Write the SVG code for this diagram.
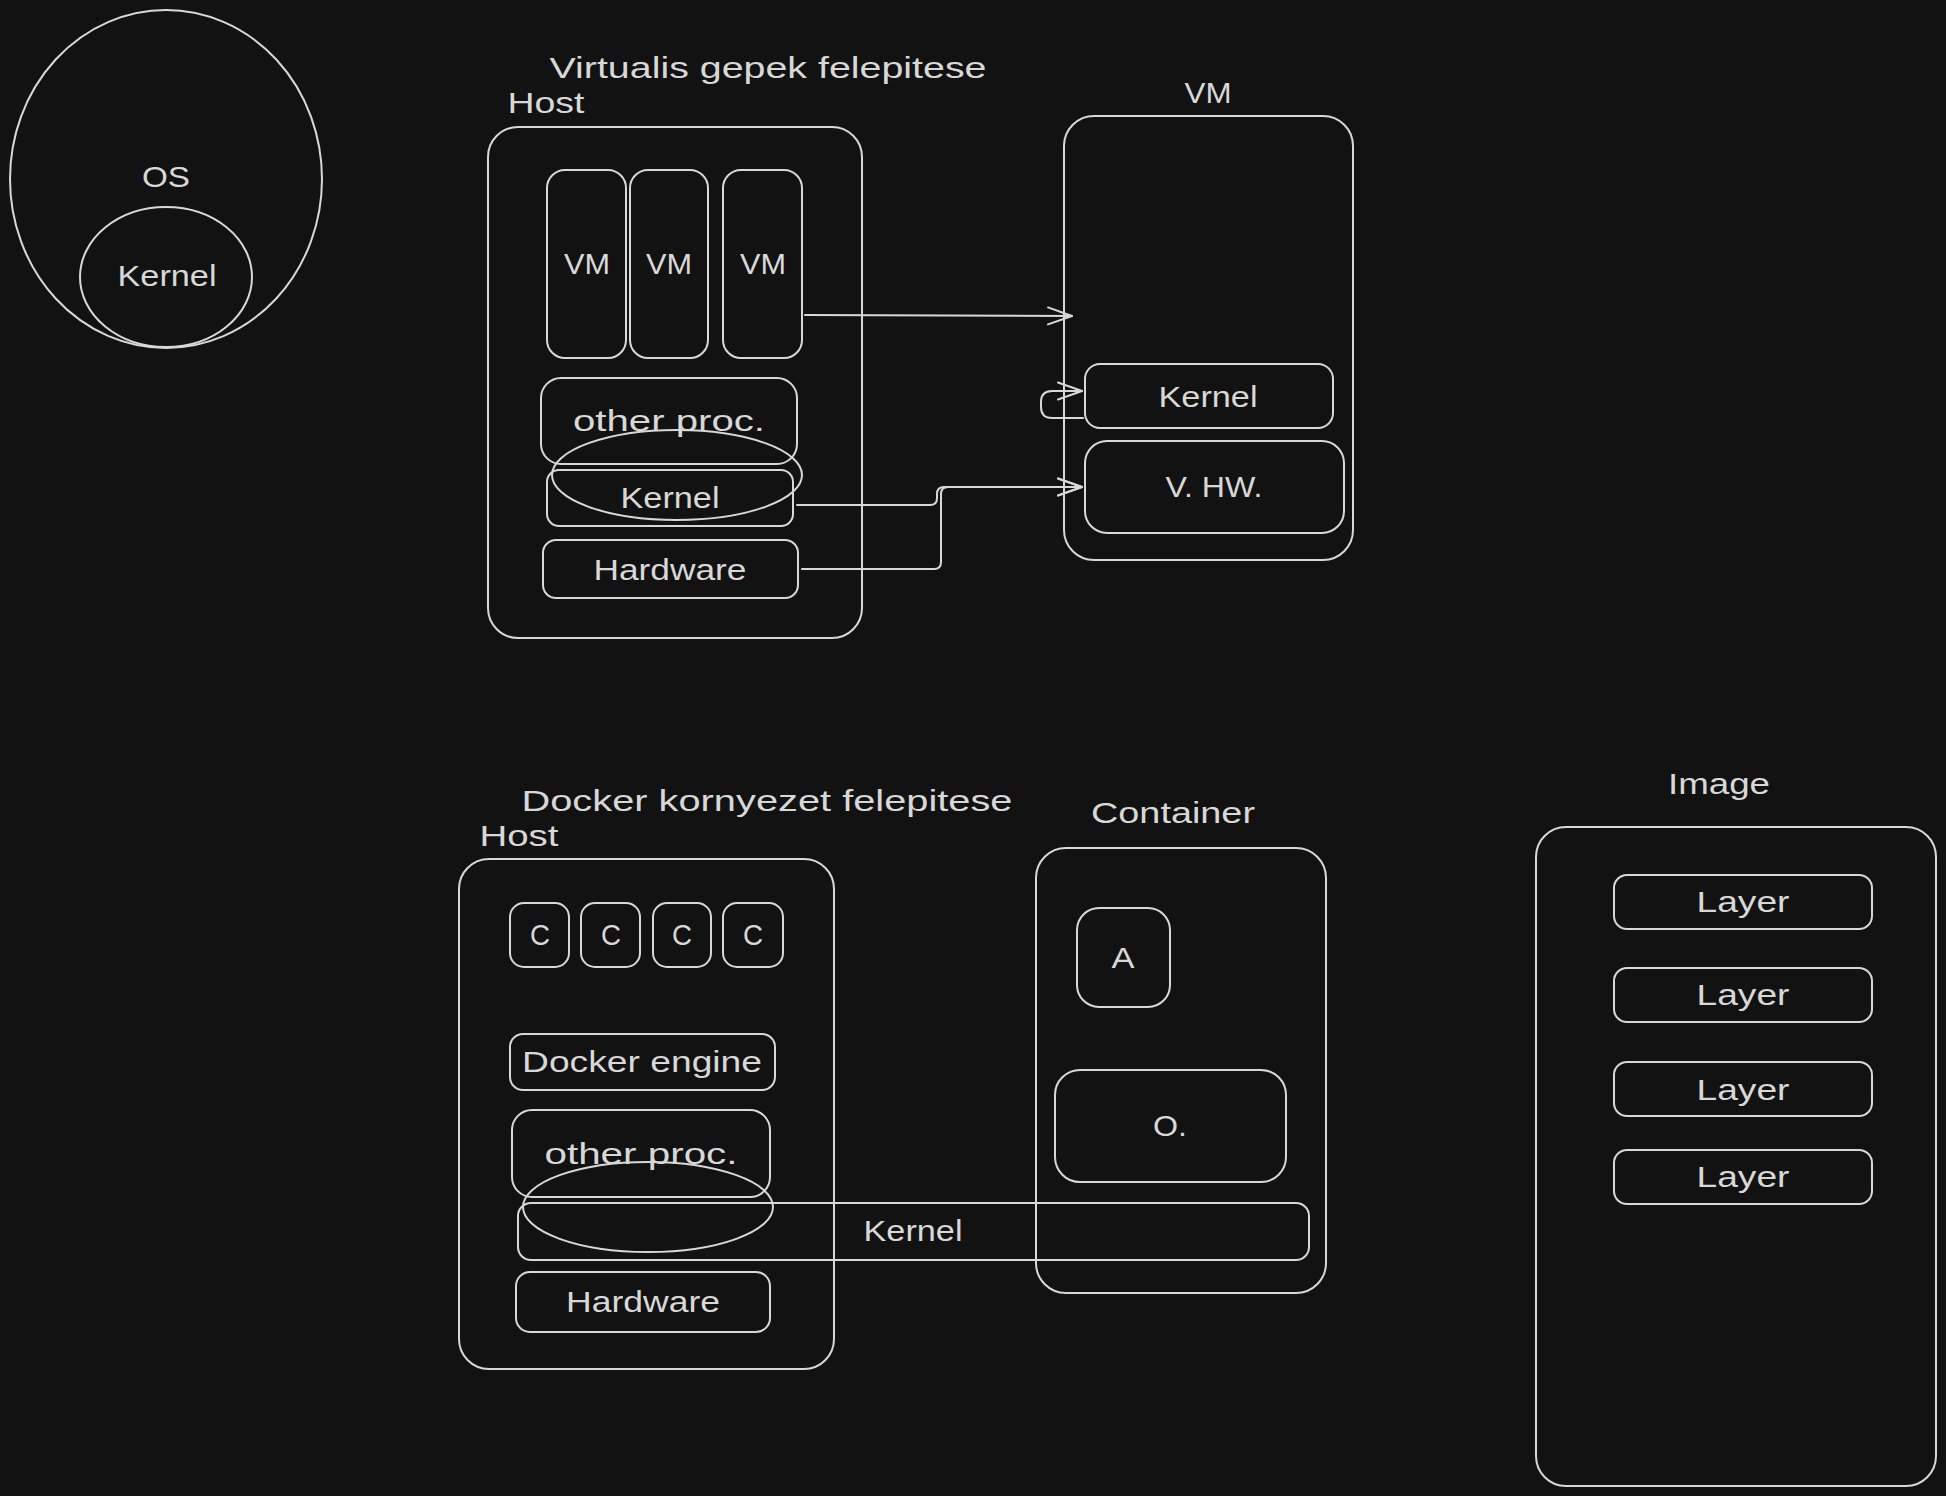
<svg xmlns="http://www.w3.org/2000/svg" width="1946" height="1496" viewBox="0 0 1946 1496">
<defs>
<style>
.s{fill:none;stroke:#d8d8d8;stroke-width:2;stroke-linecap:round;stroke-linejoin:round}
.t{fill:#d8d8d8;font-family:"Liberation Sans",Arial,sans-serif;font-size:30px;text-anchor:middle}
.c{fill:none;stroke:#d8d8d8;stroke-width:2;stroke-linecap:round;stroke-linejoin:round}
</style>
<marker id="ah" viewBox="-27 -11 30 22" refX="0" refY="0" markerWidth="30" markerHeight="22" markerUnits="userSpaceOnUse" orient="auto">
<path d="M-24,-8.5 L0,0 L-24,8.5" fill="none" stroke="#d8d8d8" stroke-width="2" stroke-linecap="round" stroke-linejoin="round"/>
</marker>
</defs>
<rect x="0" y="0" width="1946" height="1496" fill="#121212"/>

<g id="os">
<ellipse class="s" cx="166" cy="179" rx="156" ry="169"/>
<text class="t" x="166" y="187" textLength="48" lengthAdjust="spacingAndGlyphs">OS</text>
</g>
<g id="os-kernel">
<ellipse class="s" cx="166" cy="277" rx="86" ry="70"/>
<text class="t" x="167" y="286" textLength="99" lengthAdjust="spacingAndGlyphs">Kernel</text>
</g>

<g id="vm-title">
<text class="t" x="768" y="78" textLength="437" lengthAdjust="spacingAndGlyphs">Virtualis gepek felepitese</text>
</g>
<g id="vm-host">
<text class="t" x="546" y="113" textLength="77" lengthAdjust="spacingAndGlyphs">Host</text>
<rect class="s" x="488" y="127" width="374" height="511" rx="30"/>
</g>
<g id="vm-host-vm1">
<rect class="s" x="547" y="170" width="79" height="188" rx="18"/>
<text class="t" x="587" y="274" textLength="46" lengthAdjust="spacingAndGlyphs">VM</text>
</g>
<g id="vm-host-vm2">
<rect class="s" x="630" y="170" width="78" height="188" rx="18"/>
<text class="t" x="669" y="274" textLength="46" lengthAdjust="spacingAndGlyphs">VM</text>
</g>
<g id="vm-host-vm3">
<rect class="s" x="723" y="170" width="79" height="188" rx="18"/>
<text class="t" x="763" y="274" textLength="46" lengthAdjust="spacingAndGlyphs">VM</text>
</g>
<g id="vm-host-other">
<rect class="s" x="541" y="378" width="256" height="86" rx="20"/>
<text class="t" x="669" y="431" textLength="192" lengthAdjust="spacingAndGlyphs">other proc.</text>
</g>
<g id="vm-host-ellipse">
<ellipse class="s" cx="677" cy="475" rx="125" ry="45"/>
</g>
<g id="vm-host-kernel">
<rect class="s" x="547" y="470" width="246" height="56" rx="12"/>
<text class="t" x="670" y="508" textLength="99" lengthAdjust="spacingAndGlyphs">Kernel</text>
</g>
<g id="vm-host-hardware">
<rect class="s" x="543" y="540" width="255" height="58" rx="13"/>
<text class="t" x="670" y="580" textLength="153" lengthAdjust="spacingAndGlyphs">Hardware</text>
</g>

<g id="vm">
<text class="t" x="1208" y="103" textLength="47" lengthAdjust="spacingAndGlyphs">VM</text>
<rect class="s" x="1064" y="116" width="289" height="444" rx="30"/>
</g>
<g id="vm-kernel">
<rect class="s" x="1085" y="364" width="248" height="64" rx="15"/>
<text class="t" x="1208" y="407" textLength="99" lengthAdjust="spacingAndGlyphs">Kernel</text>
</g>
<g id="vm-vhw">
<rect class="s" x="1085" y="441" width="259" height="92" rx="22"/>
<text class="t" x="1214" y="497" textLength="97" lengthAdjust="spacingAndGlyphs">V. HW.</text>
</g>

<g id="docker-title">
<text class="t" x="767" y="811" textLength="491" lengthAdjust="spacingAndGlyphs">Docker kornyezet felepitese</text>
</g>
<g id="docker-host">
<text class="t" x="519" y="846" textLength="79" lengthAdjust="spacingAndGlyphs">Host</text>
<rect class="s" x="459" y="859" width="375" height="510" rx="30"/>
</g>
<g id="docker-c1">
<rect class="s" x="510" y="903" width="59" height="64" rx="14"/>
<text class="t" x="540" y="945" textLength="20" lengthAdjust="spacingAndGlyphs">C</text>
</g>
<g id="docker-c2">
<rect class="s" x="581" y="903" width="59" height="64" rx="14"/>
<text class="t" x="611" y="945" textLength="20" lengthAdjust="spacingAndGlyphs">C</text>
</g>
<g id="docker-c3">
<rect class="s" x="653" y="903" width="58" height="64" rx="14"/>
<text class="t" x="682" y="945" textLength="20" lengthAdjust="spacingAndGlyphs">C</text>
</g>
<g id="docker-c4">
<rect class="s" x="723" y="903" width="60" height="64" rx="14"/>
<text class="t" x="753" y="945" textLength="20" lengthAdjust="spacingAndGlyphs">C</text>
</g>
<g id="docker-engine">
<rect class="s" x="510" y="1034" width="265" height="56" rx="13"/>
<text class="t" x="642" y="1072" textLength="240" lengthAdjust="spacingAndGlyphs">Docker engine</text>
</g>
<g id="docker-other">
<rect class="s" x="512" y="1110" width="258" height="87" rx="20"/>
<text class="t" x="641" y="1164" textLength="193" lengthAdjust="spacingAndGlyphs">other proc.</text>
</g>
<g id="docker-ellipse">
<ellipse class="s" cx="648" cy="1207" rx="125" ry="45"/>
</g>
<g id="docker-kernel">
<rect class="s" x="518" y="1203" width="791" height="57" rx="13"/>
<text class="t" x="913" y="1241" textLength="99" lengthAdjust="spacingAndGlyphs">Kernel</text>
</g>
<g id="docker-hardware">
<rect class="s" x="516" y="1272" width="254" height="60" rx="14"/>
<text class="t" x="643" y="1312" textLength="154" lengthAdjust="spacingAndGlyphs">Hardware</text>
</g>

<g id="container">
<text class="t" x="1173" y="823" textLength="164" lengthAdjust="spacingAndGlyphs">Container</text>
<rect class="s" x="1036" y="848" width="290" height="445" rx="30"/>
</g>
<g id="container-a">
<rect class="s" x="1077" y="908" width="93" height="99" rx="22"/>
<text class="t" x="1123" y="968" textLength="23" lengthAdjust="spacingAndGlyphs">A</text>
</g>
<g id="container-o">
<rect class="s" x="1055" y="1070" width="231" height="112" rx="25"/>
<text class="t" x="1170" y="1136" textLength="34" lengthAdjust="spacingAndGlyphs">O.</text>
</g>

<g id="image">
<text class="t" x="1719" y="794" textLength="102" lengthAdjust="spacingAndGlyphs">Image</text>
<rect class="s" x="1536" y="827" width="400" height="659" rx="30"/>
</g>
<g id="image-layer1">
<rect class="s" x="1614" y="875" width="258" height="54" rx="13"/>
<text class="t" x="1743" y="912" textLength="93" lengthAdjust="spacingAndGlyphs">Layer</text>
</g>
<g id="image-layer2">
<rect class="s" x="1614" y="968" width="258" height="54" rx="13"/>
<text class="t" x="1743" y="1005" textLength="93" lengthAdjust="spacingAndGlyphs">Layer</text>
</g>
<g id="image-layer3">
<rect class="s" x="1614" y="1062" width="258" height="54" rx="13"/>
<text class="t" x="1743" y="1100" textLength="93" lengthAdjust="spacingAndGlyphs">Layer</text>
</g>
<g id="image-layer4">
<rect class="s" x="1614" y="1150" width="258" height="54" rx="13"/>
<text class="t" x="1743" y="1187" textLength="93" lengthAdjust="spacingAndGlyphs">Layer</text>
</g>

<g id="connectors">
<path class="c" d="M805,315 L1072,316" marker-end="url(#ah)"/>
<path class="c" d="M797,505 L930,505 Q937,505 937,498 L937,494 Q937,487 944,487 L1082,487" marker-end="url(#ah)"/>
<path class="c" d="M802,569 L934,569 Q941,569 941,562 L941,494 Q941,487 948,487 L1082,487" marker-end="url(#ah)"/>
<path class="c" d="M1083,418 L1052,418 Q1041,418 1041,407 L1041,402 Q1041,391 1052,391 L1082,391" marker-end="url(#ah)"/>
</g>
</svg>
